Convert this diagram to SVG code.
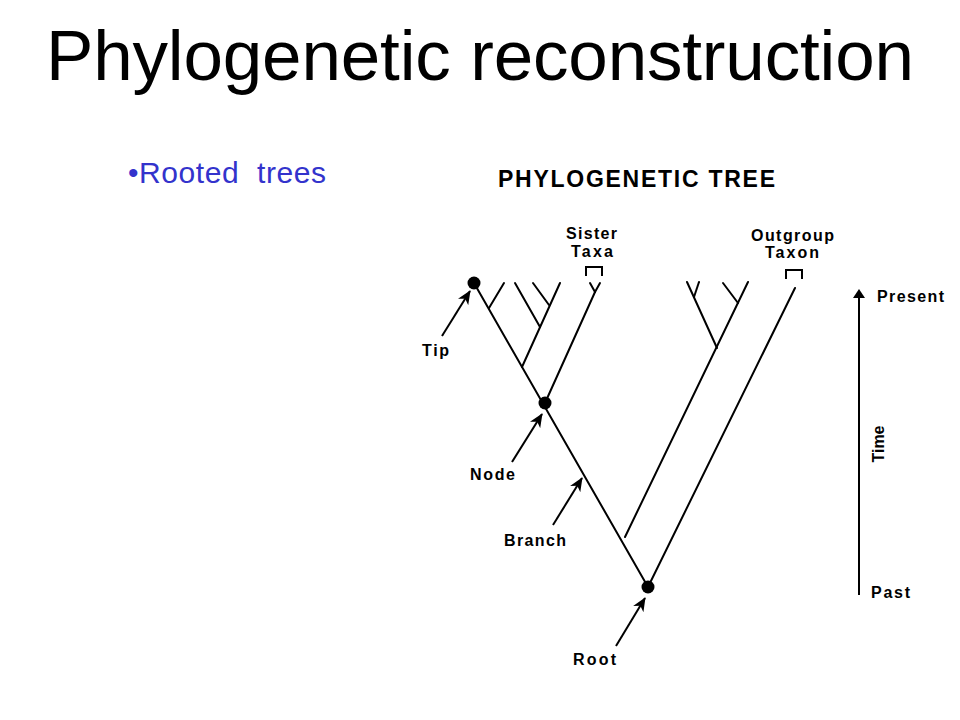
<svg xmlns="http://www.w3.org/2000/svg" width="960" height="720" viewBox="0 0 960 720">
<style>
.t{stroke:#000;stroke-width:2;fill:none;stroke-linecap:round}
.a{stroke:#000;stroke-width:2;fill:none}
.lbl{font-family:"Liberation Sans",Arial,sans-serif;font-weight:bold;font-size:16px;fill:#000}
.dot{fill:#000}
</style>
<defs>
<marker id="ah" viewBox="0 0 14 12" refX="13" refY="6" markerWidth="14" markerHeight="12" markerUnits="userSpaceOnUse" orient="auto">
<path d="M0,0 L14,6 L0,12 L4,6 Z" fill="#000"/>
</marker>
</defs>
<rect width="960" height="720" fill="#fff"/>
<text x="480" y="80" text-anchor="middle" font-family="'Liberation Sans',Arial,sans-serif" font-size="71" textLength="868" fill="#000">Phylogenetic reconstruction</text>
<text x="128" y="183" font-family="'Liberation Sans',Arial,sans-serif" font-size="30" fill="#3333cc" xml:space="preserve" textLength="198">•Rooted  trees</text>
<text x="498" y="187" font-family="'Liberation Sans',Arial,sans-serif" font-weight="bold" font-size="23" textLength="277" fill="#000">PHYLOGENETIC TREE</text>
<g id="connectors">
<g id="tree">
<line class="t" x1="474" y1="283" x2="648" y2="587"/>
<line class="t" x1="489" y1="308" x2="504" y2="283"/>
<line class="t" x1="522" y1="367" x2="560" y2="283"/>
<line class="t" x1="515" y1="283" x2="540" y2="327"/>
<line class="t" x1="533" y1="283" x2="549" y2="305"/>
<line class="t" x1="545" y1="403" x2="595" y2="292"/>
<line class="t" x1="595" y1="292" x2="590" y2="283"/>
<line class="t" x1="595" y1="292" x2="600" y2="283"/>
<line class="t" x1="625" y1="537" x2="748" y2="282"/>
<line class="t" x1="717" y1="348" x2="687" y2="282"/>
<line class="t" x1="694" y1="297" x2="699" y2="282"/>
<line class="t" x1="738" y1="303" x2="723" y2="283"/>
<line class="t" x1="648" y1="587" x2="795" y2="288"/>
</g>
<path class="a" d="M586,276 V267 H602 V276"/>
<path class="a" d="M786,279 V270 H802 V279"/>
<line class="a" x1="442" y1="336" x2="470" y2="291" marker-end="url(#ah)"/>
<line class="a" x1="512" y1="462" x2="542" y2="414" marker-end="url(#ah)"/>
<line class="a" x1="553" y1="525" x2="582" y2="478" marker-end="url(#ah)"/>
<line class="a" x1="616" y1="646" x2="645" y2="598" marker-end="url(#ah)"/>
<line class="a" x1="859" y1="595" x2="859" y2="292"/>
<path d="M859,289 L865,298 L853,298 Z" fill="#000"/>
</g>
<g id="tip"><circle class="dot" cx="474" cy="283" r="6.5"/><text class="lbl" x="422" y="356" textLength="27">Tip</text></g>
<g id="node"><circle class="dot" cx="545" cy="403" r="6.5"/><text class="lbl" x="470" y="480" textLength="45">Node</text></g>
<g id="root"><circle class="dot" cx="648" cy="587" r="6.5"/><text class="lbl" x="573" y="665" textLength="43">Root</text></g>
<g id="branch"><text class="lbl" x="504" y="546" textLength="62">Branch</text></g>
<g id="sister"><text class="lbl" x="566" y="239" textLength="51">Sister</text><text class="lbl" x="571" y="257" textLength="42">Taxa</text></g>
<g id="outgroup"><text class="lbl" x="751" y="241" textLength="83">Outgroup</text><text class="lbl" x="765" y="258" textLength="54">Taxon</text></g>
<g id="axis">
<text class="lbl" x="877" y="302" textLength="67">Present</text>
<text class="lbl" x="871" y="598" textLength="39">Past</text>
<text class="lbl" font-size="19" text-anchor="middle" transform="translate(884,444) rotate(-90)">Time</text>
</g>
</svg>
